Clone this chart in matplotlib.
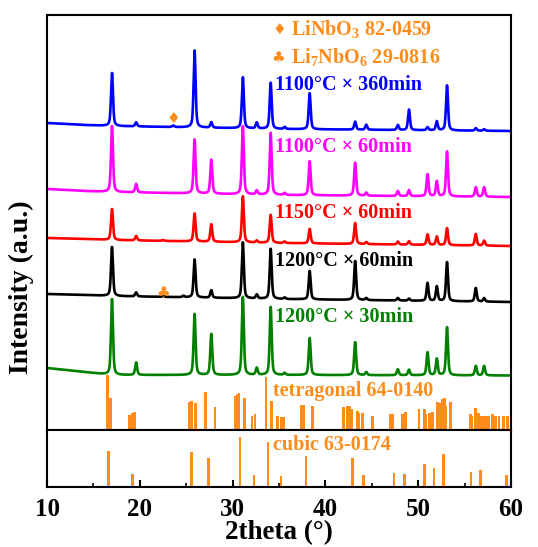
import matplotlib
matplotlib.use('Agg')
import matplotlib.pyplot as plt
import numpy as np

plt.rcParams['font.family'] = ['Liberation Serif', 'DejaVu Serif']
plt.rcParams['font.weight'] = 'bold'
plt.rcParams['mathtext.fontset'] = 'custom'
plt.rcParams['mathtext.rm'] = 'Liberation Serif:bold'
plt.rcParams['mathtext.bf'] = 'Liberation Serif:bold'

# peak positions shared by all patterns (2theta, deg)
peak_pos = [17.0, 19.6, 22.5, 23.6, 24.7, 25.9, 27.7, 31.1, 32.6, 34.1, 35.6, 38.3,
            43.2, 44.4, 47.8, 49.0, 51.0, 52.0, 53.1, 56.2, 57.1]

# peak heights above baseline for each sample
h_1100_360 = [53, 4, 0, 1.5, 0, 77, 5.5, 51, 6, 46, 2, 36,
              8, 5, 5, 20.5, 3, 9, 45, 2.5, 1.5]
h_1100_60 = [66, 8.5, 0, 0, 0, 54, 34, 68, 4, 62, 2, 34,
             33, 3, 5, 6, 22, 15, 45, 9.5, 9.5]
h_1150_60 = [31, 4.5, 1, 0, 0, 28, 17.5, 46, 2, 28, 1.5, 14.5,
             21, 2, 3, 3.5, 10.5, 8.5, 17, 11.5, 5]
h_1200_60 = [49, 4, 1, 0, 1.5, 38, 7.5, 56, 4, 50, 1.5, 28.5,
             39, 2, 2.5, 2, 18, 14.5, 39, 13.5, 3.5]
h_1200_30 = [76, 12.5, 0, 0, 0, 61, 41, 78, 7, 68, 2, 37,
             33, 3, 6, 5.5, 23, 16.5, 48, 9.5, 9.5]

# baselines (anchor points)
base_x = [10, 14, 17, 35, 60]
base_1100_360 = [307, 305, 304, 301, 299]
base_1100_60 = [241, 239, 238, 235, 233]
base_1150_60 = [192, 191, 190, 187, 184]
base_1200_60 = [136, 135, 134, 131, 128]
base_1200_30 = [62, 58, 55, 55, 54.5]

samples = [
    ('1100°C × 360min', base_1100_360, h_1100_360, '#0000FF', 345),
    ('1100°C × 60min', base_1100_60, h_1100_60, '#FF00FF', 283),
    ('1150°C × 60min', base_1150_60, h_1150_60, '#FF0000', 217),
    ('1200°C × 60min', base_1200_60, h_1200_60, '#000000', 169),
    ('1200°C × 30min', base_1200_30, h_1200_30, '#008000', 113),
]

# reference cards
tet_pos = [16.52, 16.87, 18.9, 19.2, 19.43, 25.3, 25.57, 25.97, 27.1, 28.1,
           30.3, 30.5, 30.7, 31.3, 32.1, 32.4, 33.6, 34.2, 34.85, 35.2,
           35.35, 35.5, 37.44, 37.7, 38.63, 41.93, 42.4, 42.58, 42.84, 43.45,
           43.6, 43.98, 45.1, 47.0, 47.3, 48.3, 48.6, 50.1, 50.7, 50.85,
           51.2, 51.53, 52.1, 52.35, 52.6, 52.8, 53.0, 53.5, 55.6, 55.8,
           56.2, 56.5, 56.7, 57.0, 57.3, 57.6, 58.0, 58.3, 58.7, 59.2, 59.6]
tet_h = [55, 31.7, 15, 16.7, 18.3, 28.3, 29.3, 26.7, 37.7, 22.7,
         34, 35.7, 36.7, 32.3, 14, 15.7, 52.7, 29.3, 14, 12.7,
         12.7, 12.7, 25, 25, 24, 23.3, 24, 24.3, 20.7, 19.3,
         17, 16.7, 14, 15.7, 15.7, 16, 18.3, 20.7, 20.7, 16,
         17, 18.3, 28.3, 27, 30.7, 31.7, 24, 28.3, 15.7, 14,
         21.7, 17, 14, 14, 14, 14, 16, 14, 14, 14, 14]

cub_pos = [16.6, 19.2, 25.6, 27.4, 30.8, 32.3, 33.8, 35.2, 37.9, 42.9,
           44.1, 47.4, 48.5, 50.7, 51.7, 52.7, 55.7, 56.7, 59.5]
cub_h = [36, 13.3, 35, 29.3, 50, 12.3, 45, 11, 31, 29.3,
         12.3, 14, 13.3, 22.7, 19, 33.3, 15, 16.7, 11.7]

orange = '#FF8C1A'

x = np.linspace(10, 60, 6001)


def profile(base, heights, fwhm=0.25):
    y = np.interp(x, base_x, base)
    g = fwhm / 2
    for p, h in zip(peak_pos, heights):
        lor = 1 / (1 + ((x - p) / g) ** 2)
        gau = np.exp(-np.log(2) * ((x - p) / g) ** 2)
        y = y + h * (0.5 * lor + 0.5 * gau)
    return y


fig = plt.figure(figsize=(5.38, 5.47), dpi=100)
ax = fig.add_axes([0.0874, 0.2139, 0.8625, 0.7587])
ax2 = fig.add_axes([0.0874, 0.1097, 0.8625, 0.1042], sharex=ax)

for label, base, heights, color, ty in samples:
    ax.plot(x, profile(base, heights), color=color, lw=1.9)
    ax.text(34.6, ty, label, color=color, fontsize=14.5, fontweight='bold',
            va='center', ha='left')

ax.bar(tet_pos, tet_h, width=0.28, color=orange, bottom=0)
ax2.bar(cub_pos, cub_h, width=0.28, color=orange, bottom=0)

# phase markers
ax.text(23.6, 311, '♦', color=orange, fontsize=11, ha='center', va='center',
        family=['DejaVu Sans'])
ax.text(22.5, 137.5, '♣', color=orange, fontsize=11, ha='center', va='center',
        family=['DejaVu Sans'])
ax.text(35.05, 400, '♦', color=orange, fontsize=11, ha='center', va='center',
        family=['DejaVu Sans'])
ax.text(34.9, 372.5, '♣', color=orange, fontsize=11, ha='center', va='center',
        family=['DejaVu Sans'])
ax.text(36.3, 400, r'LiNbO$_3$ 82-0459', color=orange, fontsize=14.5,
        fontweight='bold', ha='left', va='center')
ax.text(36.3, 372.5, r'Li$_7$NbO$_6$ 29-0816', color=orange, fontsize=14.5,
        fontweight='bold', ha='left', va='center')
ax.text(34.35, 38.5, 'tetragonal 64-0140', color=orange, fontsize=14.5,
        fontweight='bold', ha='left', va='center')
ax2.text(34.35, 42, 'cubic 63-0174', color=orange, fontsize=14.5,
         fontweight='bold', ha='left', va='center')

ax.set_xlim(10, 60)
ax.set_ylim(0, 415)
ax2.set_ylim(0, 57)
for a in (ax, ax2):
    a.set_yticks([])
    for s in a.spines.values():
        s.set_linewidth(1.5)
ax.tick_params(axis='x', which='both', bottom=False, labelbottom=False)
ax2.set_xticks(np.arange(10, 61, 10))
ax2.set_xticks(np.arange(15, 60, 10), minor=True)
ax2.tick_params(axis='x', which='major', direction='in', length=5, width=1.5,
                labelsize=18, pad=8)
ax2.tick_params(axis='x', which='minor', direction='in', length=3, width=1.2)
for t in ax2.get_xticklabels():
    t.set_fontweight('bold')
ax2.set_xlabel('2theta (°)', fontsize=19.5, fontweight='bold', labelpad=-1)
fig.text(0.04, 0.475, 'Intensity (a.u.)', rotation=90, fontsize=20,
         fontweight='bold', ha='center', va='center')

fig.savefig('out.png', dpi=100)
